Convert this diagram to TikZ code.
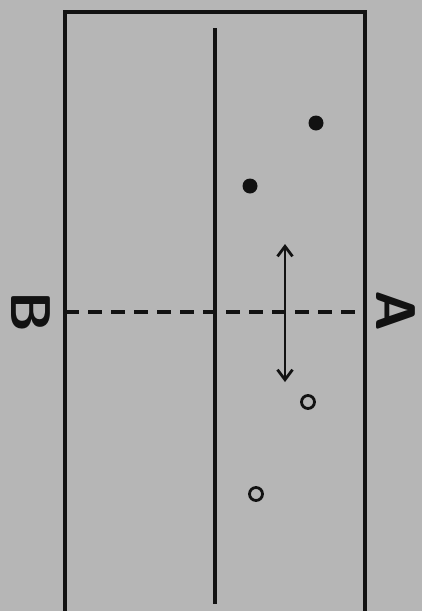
\documentclass[tikz,border=0pt]{standalone}
\usetikzlibrary{arrows.meta}
\definecolor{paper}{RGB}{182,182,182}
\definecolor{ink}{RGB}{18,18,18}
\begin{document}
\begin{tikzpicture}[x=1pt,y=-1pt,line width=3.4pt,
  full/.style={circle,fill=ink,inner sep=0pt,minimum size=15pt},
  hollow/.style={circle,draw=ink,line width=2.8pt,inner sep=0pt,minimum size=13pt},
  letter/.style={font=\sffamily\bfseries\fontsize{56}{56}\selectfont,text=ink,inner sep=0pt,rotate=-90}]
\fill[paper] (0,0) rectangle (422,611);
\useasboundingbox (0,0) rectangle (422,611);
\draw[ink] (65,611) -- (65,12) -- (365,12) -- (365,611);
\draw[ink] (215,28) -- (215,604);
\coordinate (west) at (65,312);
\coordinate (east) at (365,312);
\draw[ink,dash pattern=on 14pt off 9pt] (west) -- (east);
\node[letter] (b) at (31,312) {B};
\node[letter] (a) at (396,311) {A};
\node[full] (p1) at (316,123) {};
\node[full] (p2) at (250,186) {};
\node[hollow] (q1) at (308,402) {};
\node[hollow] (q2) at (256,494) {};
\coordinate (up) at (285,244);
\coordinate (down) at (285,382);
\draw[ink,line width=2.8pt,{Straight Barb[length=10pt,width=15pt]}-{Straight Barb[length=10pt,width=15pt]}] (up) -- (down);
\end{tikzpicture}
\end{document}
